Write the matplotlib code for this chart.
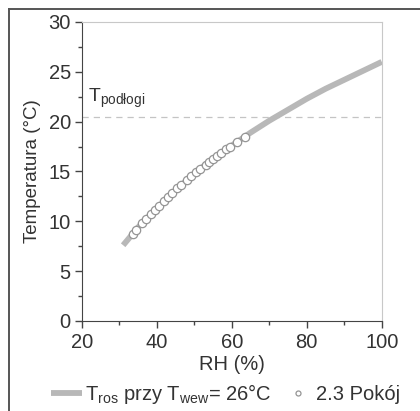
import matplotlib
matplotlib.use('Agg')
import matplotlib.pyplot as plt
from matplotlib.lines import Line2D
from matplotlib.ticker import MultipleLocator

plt.rcParams['font.family'] = ['Liberation Sans', 'DejaVu Sans']

# krzywa punktu rosy przy Twew = 26°C
rh_curve = [31, 33, 35, 40, 45, 50, 55, 60, 65, 70, 75, 80, 85, 90, 95, 100]
t_curve = [7.6, 8.5, 9.4, 11.3, 13.1, 14.8, 16.3, 17.6, 18.9, 20.1, 21.2, 22.3, 23.3, 24.2, 25.1, 26.0]

# pomiary: 2.3 Pokój
rh_room = [33.5, 34.5, 36, 37, 38.5, 39.5, 40.5, 42, 43, 44, 45.5, 46.5, 48, 49,
           50.5, 51.5, 53, 54, 55, 56, 57, 58.5, 59.5, 61.5, 63.5]
t_room = [8.7, 9.1, 9.8, 10.2, 10.7, 11.1, 11.5, 12.0, 12.4, 12.8, 13.3, 13.6, 14.1, 14.5,
          14.9, 15.2, 15.7, 16.0, 16.3, 16.6, 16.9, 17.3, 17.5, 18.0, 18.5]

t_floor = 20.5

fig = plt.figure(figsize=(4.2, 4.11), dpi=100)
ax = fig.add_axes([0.195, 0.219, 0.714, 0.7275])

ax.plot(rh_curve, t_curve, color='#b8b8b8', lw=4.2, solid_capstyle='butt',
        label=r'T$_{\mathregular{ros}}$ przy T$_{\mathregular{wew}}$= 26°C', zorder=2)
ax.plot(rh_room, t_room, ls='none', marker='o', ms=6, mfc='white', mec='#959595',
        mew=0.9, label='2.3 Pokój', zorder=3)
ax.axhline(t_floor, color='#c4c4c4', lw=0.9, ls=(0, (5, 4)), zorder=1)
ax.text(21.5, 22.3, r'T$_{\mathregular{podłogi}}$', fontsize=14, color='#333333', va='center')

ax.set_xlim(20, 100)
ax.set_ylim(0, 30)
ax.xaxis.set_major_locator(MultipleLocator(20))
ax.xaxis.set_minor_locator(MultipleLocator(10))
ax.yaxis.set_major_locator(MultipleLocator(5))
ax.yaxis.set_minor_locator(MultipleLocator(2.5))
ax.tick_params(which='both', direction='out', top=False, right=False,
               colors='#444444', labelcolor='#333333', labelsize=14.5)
ax.tick_params(which='major', length=5, width=1)
ax.tick_params(which='minor', length=3, width=1)
ax.tick_params(axis='x', pad=4)
ax.tick_params(axis='y', pad=3)
for s in ['left', 'bottom']:
    ax.spines[s].set_color('#444444')
for s in ['top', 'right']:
    ax.spines[s].set_color('#c8c8c8')

ax.set_xlabel('RH (%)', fontsize=14.5, color='#333333', labelpad=2)
ax.set_ylabel('Temperatura (°C)', fontsize=13.5, color='#333333', labelpad=5)

fig.legend(loc='center', bbox_to_anchor=(0.538, 1 - 394 / 411), ncol=2, frameon=False,
           fontsize=14.5, handlelength=1.5, handletextpad=0.15, columnspacing=0.6,
           markerscale=0.6, labelcolor='#333333', borderpad=0)

# ramka
fig.add_artist(Line2D([9 / 420, 1], [1 - 9 / 411, 1 - 9 / 411], transform=fig.transFigure,
                      color='#555555', lw=1.4))
fig.add_artist(Line2D([9 / 420, 9 / 420], [0, 1 - 9 / 411], transform=fig.transFigure,
                      color='#555555', lw=1.4))

fig.savefig('out.png', dpi=100)
